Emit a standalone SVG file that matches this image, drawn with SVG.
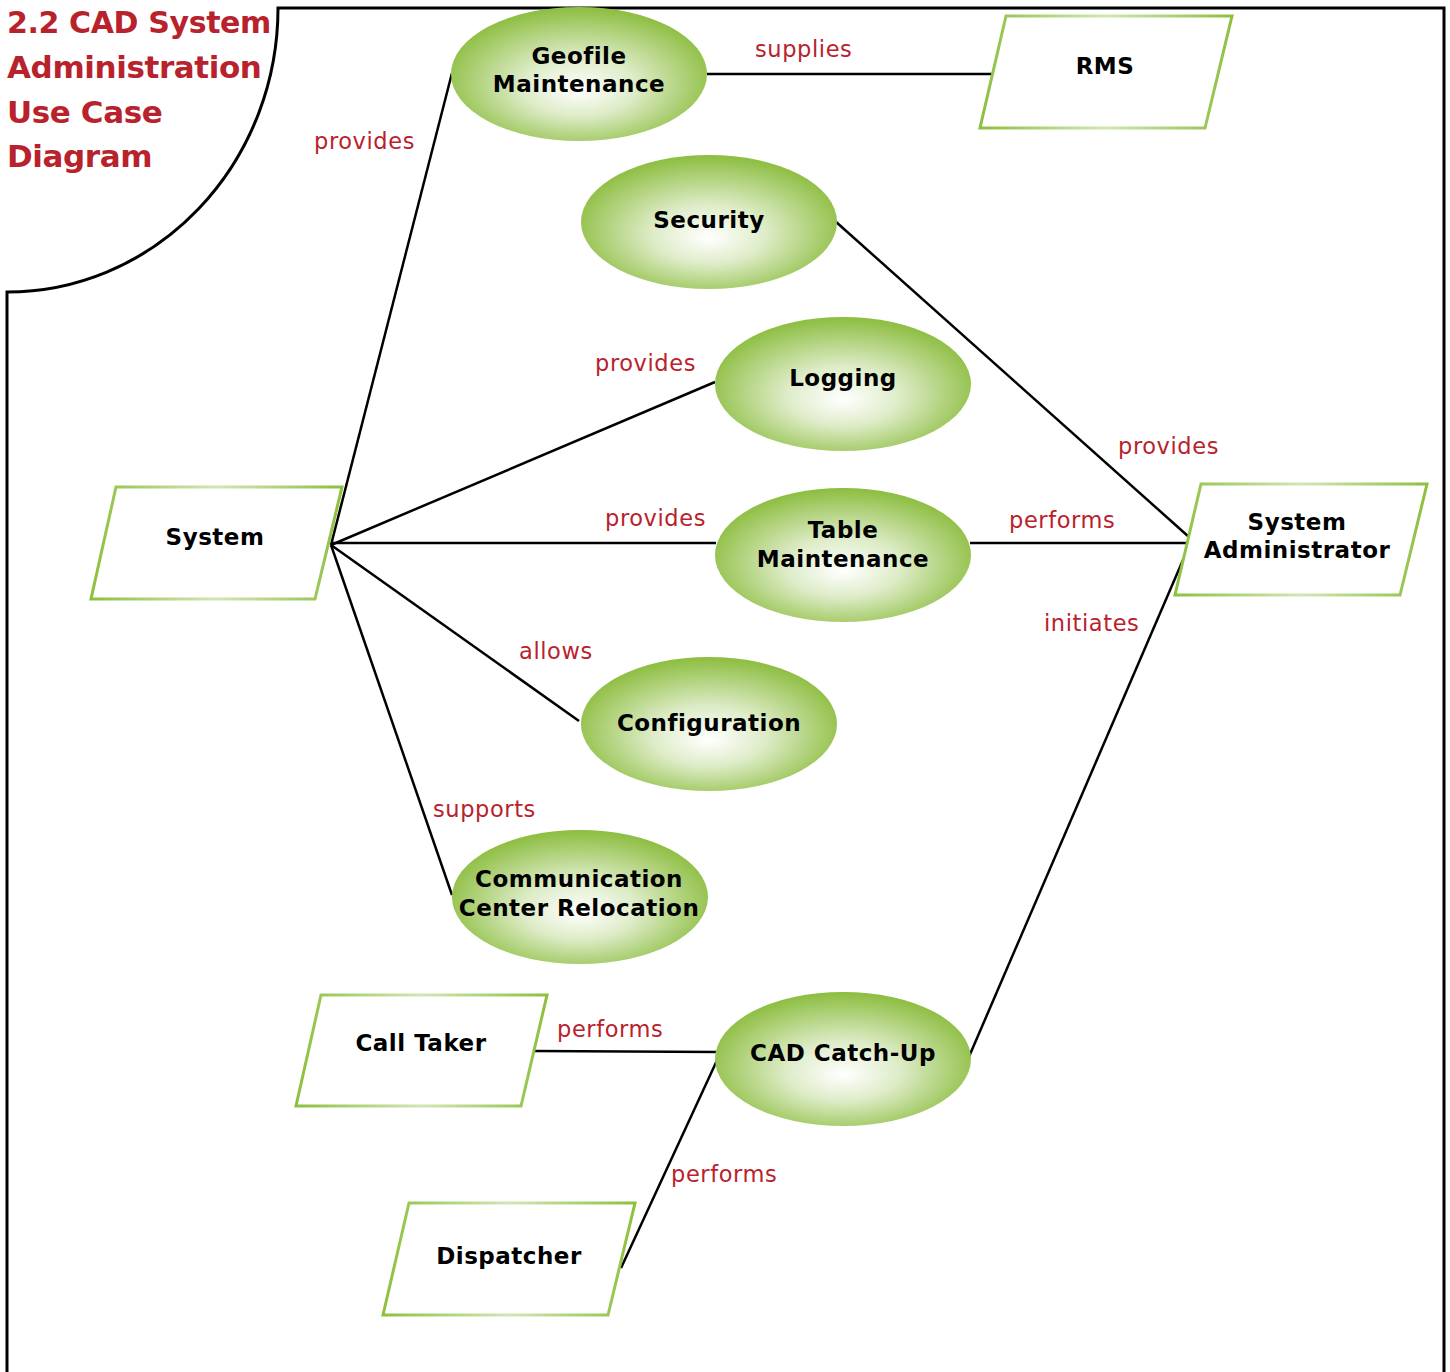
<svg xmlns="http://www.w3.org/2000/svg" width="1450" height="1372" viewBox="0 0 1450 1372">
<defs>
<radialGradient id="uc" cx="50%" cy="55%" r="55%" fx="50%" fy="62%">
<stop offset="0" stop-color="#ffffff"/>
<stop offset="0.4" stop-color="#deecc8"/>
<stop offset="1" stop-color="#8cbd3f"/>
</radialGradient>
<linearGradient id="act" x1="0" y1="0" x2="1" y2="0">
<stop offset="0" stop-color="#8cc03e"/>
<stop offset="0.5" stop-color="#d2e6b6"/>
<stop offset="1" stop-color="#8cc03e"/>
</linearGradient>
<style>
.uc{fill:url(#uc);stroke:none}
.act{fill:#ffffff;stroke:url(#act);stroke-width:3}
.nt{font-family:"DejaVu Sans",Verdana,sans-serif;font-weight:bold;font-size:23px;letter-spacing:0.5px;fill:#000;text-anchor:middle}
.lb{font-family:"DejaVu Sans",Verdana,sans-serif;font-size:22.5px;letter-spacing:0.6px;fill:#b8222c}
.ttl{font-family:"DejaVu Sans","Liberation Sans",sans-serif;font-weight:bold;font-size:31px;letter-spacing:-0.4px;fill:#b8222c}
.cn{stroke:#000;stroke-width:2.5;fill:none}
</style>
</defs>
<rect width="1450" height="1372" fill="#fff"/>
<g id="frame">
<path d="M7,1372 L7,292 A271,284 0 0 0 278,8 L1444,8 L1444,1372" fill="none" stroke="#000" stroke-width="3"/>
</g>
<g id="title">
<text class="ttl" x="7" y="33" textLength="264" lengthAdjust="spacingAndGlyphs">2.2 CAD System</text>
<text class="ttl" x="7" y="78">Administration</text>
<text class="ttl" x="7" y="123">Use Case</text>
<text class="ttl" x="7" y="167">Diagram</text>
</g>
<g id="connectors">
<line class="cn" x1="331" y1="545" x2="452" y2="73"/>
<line class="cn" x1="331" y1="545" x2="715" y2="382"/>
<line class="cn" x1="331" y1="543" x2="716" y2="543"/>
<line class="cn" x1="331" y1="545" x2="579" y2="721"/>
<line class="cn" x1="331" y1="545" x2="452" y2="895"/>
<line class="cn" x1="707" y1="74" x2="993" y2="74"/>
<line class="cn" x1="835" y1="221" x2="1189" y2="537"/>
<line class="cn" x1="970" y1="543" x2="1188" y2="543"/>
<line class="cn" x1="1186" y1="553" x2="968" y2="1059"/>
<line class="cn" x1="534" y1="1051" x2="718" y2="1052"/>
<line class="cn" x1="621" y1="1268" x2="719" y2="1056"/>
<text class="lb" x="314" y="149">provides</text>
<text class="lb" x="755" y="57">supplies</text>
<text class="lb" x="595" y="371">provides</text>
<text class="lb" x="605" y="526">provides</text>
<text class="lb" x="519" y="659">allows</text>
<text class="lb" x="433" y="817">supports</text>
<text class="lb" x="1118" y="454">provides</text>
<text class="lb" x="1009" y="528">performs</text>
<text class="lb" x="1044" y="631">initiates</text>
<text class="lb" x="557" y="1037">performs</text>
<text class="lb" x="671" y="1182">performs</text>
</g>
<g id="geofile">
<ellipse class="uc" cx="579" cy="74" rx="128" ry="67"/>
<text class="nt" x="579" y="64">Geofile</text>
<text class="nt" x="579" y="92">Maintenance</text>
</g>
<g id="security">
<ellipse class="uc" cx="709" cy="222" rx="128" ry="67"/>
<text class="nt" x="709" y="228">Security</text>
</g>
<g id="logging">
<ellipse class="uc" cx="843" cy="384" rx="128" ry="67"/>
<text class="nt" x="843" y="386">Logging</text>
</g>
<g id="table-maintenance">
<ellipse class="uc" cx="843" cy="555" rx="128" ry="67"/>
<text class="nt" x="843" y="538">Table</text>
<text class="nt" x="843" y="567">Maintenance</text>
</g>
<g id="configuration">
<ellipse class="uc" cx="709" cy="724" rx="128" ry="67"/>
<text class="nt" x="709" y="731">Configuration</text>
</g>
<g id="relocation">
<ellipse class="uc" cx="580" cy="897" rx="128" ry="67"/>
<text class="nt" x="579" y="887">Communication</text>
<text class="nt" x="579" y="916">Center Relocation</text>
</g>
<g id="catchup">
<ellipse class="uc" cx="843" cy="1059" rx="128" ry="67"/>
<text class="nt" x="843" y="1061">CAD Catch-Up</text>
</g>
<g id="rms">
<polygon class="act" points="1006,16 1232,16 1205,128 980,128"/>
<text class="nt" x="1105" y="74">RMS</text>
</g>
<g id="system">
<polygon class="act" points="116,487 342,487 315,599 91,599"/>
<text class="nt" x="215" y="545">System</text>
</g>
<g id="sysadmin">
<polygon class="act" points="1201,484 1427,484 1400,595 1175,595"/>
<text class="nt" x="1297" y="530">System</text>
<text class="nt" x="1297" y="558">Administrator</text>
</g>
<g id="calltaker">
<polygon class="act" points="321,995 547,995 521,1106 296,1106"/>
<text class="nt" x="421" y="1051">Call Taker</text>
</g>
<g id="dispatcher">
<polygon class="act" points="409,1203 635,1203 608,1315 383,1315"/>
<text class="nt" x="509" y="1264">Dispatcher</text>
</g>
</svg>
